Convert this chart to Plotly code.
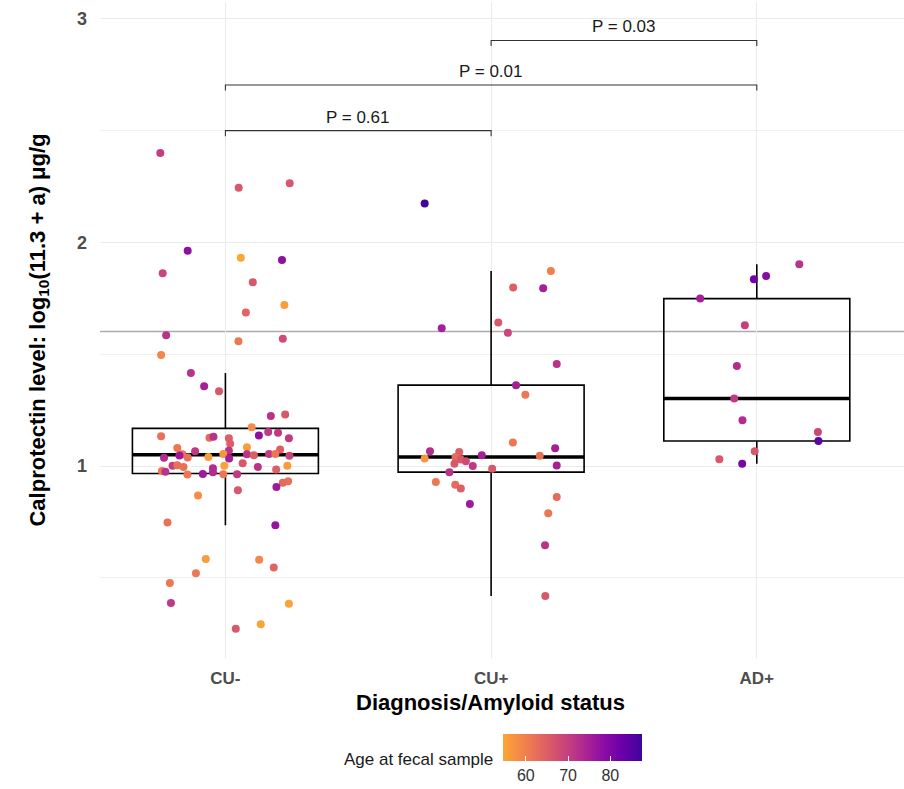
import numpy as np
import plotly.graph_objects as go

# ---------------- data ----------------
groups = ["CU-", "CU+", "AD+"]

cu_minus_values = [
    2.400, 2.245, 2.265, 1.963, 1.862, 1.932, 1.922, 1.822, 1.720, 1.687,
    1.585, 1.558, 1.569, 1.497, 1.416, 1.357, 1.335, 1.224, 1.231, 1.174,
    1.133, 1.127, 1.131, 1.125, 1.137, 1.152, 1.149, 1.124, 1.081, 1.100,
    1.084, 1.066, 1.069, 1.074, 1.053, 1.037, 1.047, 1.038, 1.041, 1.054,
    1.034, 1.053, 1.049, 1.054, 1.054, 1.046, 1.001, 1.004, 0.996, 1.001,
    1.013, 0.996, 1.001, 0.978, 0.975, 0.962, 0.965, 0.990, 0.972, 0.963,
    0.963, 0.985, 0.932, 0.925, 0.907, 0.892, 0.869, 0.748, 0.735, 0.585,
    0.581, 0.547, 0.521, 0.477, 0.388, 0.384, 0.293, 0.273,
]
cu_minus_jitter = [
    -0.245, 0.050, 0.242, -0.142, -0.236, 0.058, 0.213, 0.103, 0.222, 0.077,
    -0.223, 0.049, 0.216, -0.242, -0.130, -0.080, -0.024, 0.171, 0.225, 0.099,
    -0.242, -0.060, -0.045, 0.013, 0.126, 0.161, 0.198, 0.239, -0.181, 0.018,
    0.081, -0.114, 0.013, 0.206, -0.162, -0.231, -0.173, -0.142, -0.064, -0.008,
    0.014, 0.081, 0.107, 0.164, 0.188, 0.241, -0.199, -0.181, -0.158, -0.004,
    0.065, 0.122, 0.233, -0.239, -0.226, -0.143, -0.085, -0.047, -0.047, -0.008,
    0.044, 0.191, 0.236, 0.216, 0.192, 0.047, -0.103, -0.218, 0.188, -0.074,
    0.127, 0.182, -0.111, -0.209, -0.205, 0.239, 0.133, 0.039,
]
cu_minus_age = [
    70, 66, 66, 78, 69, 54.6, 78, 66, 56, 64,
    72, 61, 68, 59, 72, 75, 66, 72, 66, 58,
    62, 63, 72, 65, 78, 71, 71, 71, 61, 65,
    56, 71, 72, 65, 62, 73, 76, 62, 56, 57,
    75, 72, 65, 71, 61, 69, 70, 62, 62, 55,
    66, 72, 56, 61, 72, 61, 76, 73, 73, 61,
    71, 65, 62, 63, 76, 66, 58, 62, 77, 56,
    59, 64, 61, 61, 71, 55, 55, 66,
]

cu_plus_values = [
    2.174, 1.872, 1.798, 1.795, 1.616, 1.642, 1.596, 1.457, 1.362, 1.319,
    1.105, 1.080, 1.066, 1.063, 1.034, 1.041, 1.030, 1.022, 1.010, 1.049,
    1.000, 1.046, 1.003, 0.988, 0.973, 0.929, 0.917, 0.900, 0.831, 0.862,
    0.789, 0.646, 0.419,
]
cu_plus_jitter = [
    -0.250, 0.225, 0.083, 0.196, -0.186, 0.027, 0.063, 0.247, 0.094, 0.129,
    0.082, 0.241, -0.230, -0.120, -0.250, -0.134, -0.114, -0.095, -0.138, -0.035,
    -0.069, 0.183, 0.247, 0.004, -0.157, -0.208, -0.135, -0.114, -0.080, 0.247,
    0.215, 0.203, 0.204,
]
cu_plus_age = [
    87.5, 60, 65, 75, 75, 66, 69, 72, 75, 61,
    61, 75, 73, 65, 57, 63, 66, 68, 66, 75,
    71, 62, 75, 66, 72, 61, 63, 65, 76, 63,
    61, 72, 66,
]

ad_plus_values = [1.903, 1.850, 1.835, 1.749, 1.630, 1.448, 1.302,
                  1.205, 1.152, 1.112, 1.066, 1.031, 1.010]
ad_plus_jitter = [0.160, 0.035, -0.011, -0.213, -0.045, -0.075, -0.085,
                  -0.054, 0.230, 0.232, -0.008, -0.141, -0.055]
ad_plus_age = [72, 79, 82, 75, 70, 73, 71, 73, 69, 84, 66, 66, 81]

comparisons = [("CU-", "CU+"), ("CU-", "AD+"), ("CU+", "AD+")]
p_labels = ["P = 0.61", "P = 0.01", "P = 0.03"]
bracket_levels = [2.500, 2.704, 2.903]

threshold_value = 1.602
age_ticks = [60, 70, 80]

# ---------------- styling ----------------
FONT = "Liberation Sans, Arial, Helvetica, sans-serif"
plasma_rev = [
    [0.0, "#fca636"], [1 / 7, "#f2844b"], [2 / 7, "#e16462"], [3 / 7, "#cc4778"],
    [4 / 7, "#b12a90"], [5 / 7, "#8f0da4"], [6 / 7, "#6a00a8"], [1.0, "#41049d"],
]

values = [cu_minus_values, cu_plus_values, ad_plus_values]
jitters = [cu_minus_jitter, cu_plus_jitter, ad_plus_jitter]
ages = [cu_minus_age, cu_plus_age, ad_plus_age]

fig = go.Figure()

BOX_W = 0.7


def box_stats(v):
    v = np.asarray(v, dtype=float)
    q1, med, q3 = np.percentile(v, [25, 50, 75])
    iqr = q3 - q1
    lo = v[v >= q1 - 1.5 * iqr].min()
    hi = v[v <= q3 + 1.5 * iqr].max()
    return q1, med, q3, lo, hi


med_x, med_y = [], []
for i, v in enumerate(values):
    q1, med, q3, lo, hi = box_stats(v)
    fig.add_trace(go.Box(
        x=[i], q1=[q1], median=[med], q3=[q3], lowerfence=[lo], upperfence=[hi],
        width=BOX_W, fillcolor="rgba(0,0,0,0)",
        line=dict(color="black", width=1.6), whiskerwidth=0,
        boxpoints=False, showlegend=False, hoverinfo="skip",
    ))
    med_x += [i - BOX_W / 2, i + BOX_W / 2, None]
    med_y += [med, med, None]

fig.add_trace(go.Scatter(x=med_x, y=med_y, mode="lines",
                         line=dict(color="black", width=3.5),
                         showlegend=False, hoverinfo="skip"))

# brackets
tick_drop = 0.025
for (a, b), lab, yb in zip(comparisons, p_labels, bracket_levels):
    xa, xb = groups.index(a), groups.index(b)
    fig.add_trace(go.Scatter(
        x=[xa, xa, xb, xb], y=[yb - tick_drop, yb, yb, yb - tick_drop],
        mode="lines", line=dict(color="#333333", width=1.1),
        showlegend=False, hoverinfo="skip"))
    fig.add_annotation(x=(xa + xb) / 2, y=yb, text=lab, showarrow=False,
                       yanchor="bottom", yshift=2,
                       font=dict(family=FONT, size=17, color="#1a1a1a"))

# points
all_x, all_y, all_c = [], [], []
for i, (v, j, a) in enumerate(zip(values, jitters, ages)):
    all_x += [i + jj for jj in j]
    all_y += list(v)
    all_c += list(a)

cmin, cmax = min(all_c), max(all_c)

plot_top, plot_bottom, plot_left, plot_right = 2, 665, 100, 904
plot_h = plot_bottom - plot_top
plot_w = plot_right - plot_left

fig.add_trace(go.Scatter(
    x=all_x, y=all_y, mode="markers",
    marker=dict(size=8, color=all_c, colorscale=plasma_rev, cmin=cmin, cmax=cmax,
                line=dict(width=0),
                colorbar=dict(
                    orientation="h", x=(503 - plot_left) / plot_w, xanchor="left",
                    y=-(742 - plot_bottom) / plot_h, yanchor="top",
                    len=139, lenmode="pixels", thickness=27, thicknessmode="pixels",
                    outlinewidth=0, tickvals=age_ticks, ticks="inside", ticklen=5,
                    tickcolor="white", tickwidth=1,
                    tickfont=dict(family=FONT, size=16, color="#333333"),
                    xpad=0, ypad=0,
                )),
    showlegend=False, hoverinfo="skip",
))

fig.add_shape(type="line", xref="paper", x0=0, x1=1, yref="y",
              y0=threshold_value, y1=threshold_value,
              line=dict(color="#ababab", width=1.6), layer="between")

fig.add_annotation(xref="paper", yref="paper",
                   x=(490 - plot_left) / plot_w, y=(plot_bottom - 710) / plot_h,
                   text="Diagnosis/Amyloid status", showarrow=False,
                   xanchor="center", yanchor="middle",
                   font=dict(family=FONT, size=22, color="black", weight="bold"))
fig.add_annotation(xref="paper", yref="paper",
                   x=(495 - plot_left) / plot_w, y=(plot_bottom - 768) / plot_h,
                   text="Age at fecal sample", showarrow=False,
                   xanchor="right", yanchor="middle",
                   font=dict(family=FONT, size=17, color="#1a1a1a"))

grid = "#ebebeb"
fig.update_layout(
    width=904, height=789,
    margin=dict(l=plot_left, r=904 - plot_right, t=plot_top, b=789 - plot_bottom),
    plot_bgcolor="white", paper_bgcolor="white",
    font=dict(family=FONT),
    xaxis=dict(range=[-0.472, 2.554], tickvals=[0, 1, 2], ticktext=groups,
               showgrid=True, gridcolor=grid, gridwidth=1.2, zeroline=False,
               showline=False, ticks="", ticklabelstandoff=8,
               tickfont=dict(family=FONT, size=17, color="#4d4d4d", weight="bold")),
    yaxis=dict(range=[0.142, 3.075], tickvals=[1, 2, 3], ticktext=["1", "2", "3"],
               showgrid=True, gridcolor=grid, gridwidth=1.2, zeroline=False,
               showline=False, ticks="", ticklabelstandoff=12,
               minor=dict(tickvals=[0.5, 1.5, 2.5], showgrid=True,
                          gridcolor="#f0f0f0", gridwidth=0.9),
               tickfont=dict(family=FONT, size=18, color="#4d4d4d", weight="bold"),
               title=dict(text="Calprotectin level: log<sub>10</sub>(11.3 + a) μg/g",
                          standoff=25,
                          font=dict(family=FONT, size=22, color="black", weight="bold"))),
)

fig.write_html("out.html",
               config={"displayModeBar": False},
               post_script="document.body.style.margin='0';document.body.style.overflow='hidden';")
